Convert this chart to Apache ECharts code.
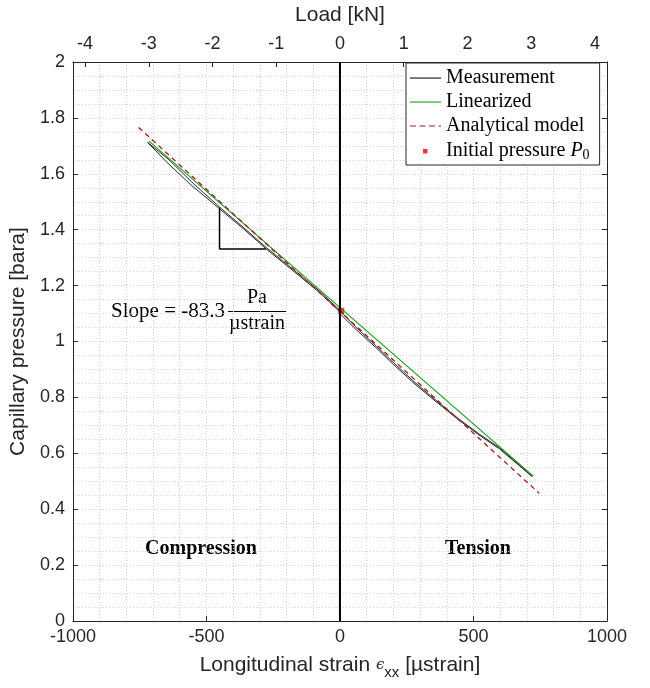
<!DOCTYPE html>
<html><head><meta charset="utf-8">
<script src="https://cdn.jsdelivr.net/npm/echarts@6.0.0/dist/echarts.min.js"></script>
<style>html,body{margin:0;padding:0;background:#fff}#c{width:650px;height:688px}</style>
</head><body><div id="c"></div>
<script>
// ---- data ----
const measStrain = [0, -75, -150, -200, -276, -360, -450, -560, -650, -720,
  -715, -640, -550, -450, -360, -276, -200, -150, -75, 0,
  50, 137, 200, 272, 340, 410, 448, 520, 597, 660, 720,
  724, 660, 597, 520, 448, 410, 340, 272, 200, 137, 50, 0];
const measPressure = [1.105, 1.174, 1.233, 1.272, 1.331, 1.402, 1.474, 1.562, 1.643, 1.712,
  1.717, 1.650, 1.566, 1.480, 1.407, 1.336, 1.277, 1.238, 1.179, 1.111,
  1.060, 0.982, 0.925, 0.861, 0.805, 0.750, 0.721, 0.670, 0.620, 0.568, 0.517,
  0.515, 0.565, 0.616, 0.666, 0.717, 0.746, 0.800, 0.855, 0.918, 0.976, 1.052, 1.100];
const linStrain = [-715, 724];
const linPressure = [1.717, 0.5185];
const anaStrain = [-754, 0, 746];
const anaPressure = [1.766, 1.108, 0.457];
const p0Strain = [5];
const p0Pressure = [1.11];
const triStrain = [-451, -451, -277];
const triPressure = [1.479, 1.331, 1.331];
const zeroLineStrain = [0, 0];
const zeroLinePressure = [0, 2];
const seriesNames = ['Measurement', 'Linearized', 'Analytical model', 'Initial pressure'];
const strainTicks = [-1000, -500, 0, 500, 1000];
const loadRange = [-4.19, 4.19];

const zip = (a, b) => a.map((v, i) => [v, b[i]]);
const AX = '#262626';
const gridLine = { show: true, lineStyle: { color: '#d4d4d4', type: [1, 2], width: 1 } };
const C_MEAS = '#111111', C_LIN = '#1f9a1f', C_ANA = '#9c1c1c', C_P0 = '#ff0000';

// legend icon paths (bounding box 31 x 5 kept via degenerate end points)
const solidIcon = 'path://M0,0L0,0M0,2L31,2L31,3.1L0,3.1ZM31,5L31,5';
const dashIcon = 'path://M0,0L0,0M0,2L6,2L6,3.1L0,3.1ZM9.5,2L15.5,2L15.5,3.1L9.5,3.1ZM19,2L25,2L25,3.1L19,3.1ZM28.5,2L31,2L31,3.1L28.5,3.1ZM31,5L31,5';
const squareIcon = 'path://M0,0L0,0M13,0.5L17.5,0.5L17.5,5L13,5ZM31,5L31,5';

const chart = echarts.init(document.getElementById('c'), null, { renderer: 'canvas' });
chart.setOption({
  animation: false,
  backgroundColor: '#fff',
  grid: { left: 72, right: 43, top: 57, bottom: 67, containLabel: false },
  xAxis: [{
    type: 'value', position: 'bottom',
    min: strainTicks[0], max: strainTicks[strainTicks.length - 1], interval: 500,
    name: 'Longitudinal strain {e|ϵ}{s|xx} [µstrain]',
    nameLocation: 'middle', nameGap: 30,
    nameTextStyle: {
      fontFamily: 'Liberation Sans', fontSize: 21, color: AX,
      rich: {
        e: { fontFamily: 'DejaVu Serif', fontStyle: 'italic', fontSize: 15, color: AX, lineHeight: 22 },
        s: { fontFamily: 'Liberation Sans', fontSize: 15, color: AX, lineHeight: 22, padding: [14, 0, 0, 0] }
      }
    },
    axisLine: { show: true, onZero: false, lineStyle: { color: AX, width: 1 } },
    axisTick: { show: true, inside: true, length: 5, lineStyle: { color: AX } },
    axisLabel: { fontFamily: 'Liberation Sans', fontSize: 18, color: AX, margin: 7, formatter: v => String(v) },
    splitLine: gridLine,
    minorTick: { show: false, splitNumber: 5 },
    minorSplitLine: gridLine
  }, {
    type: 'value', position: 'top',
    min: loadRange[0], max: loadRange[1], splitNumber: 8,
    name: 'Load [kN]', nameLocation: 'middle', nameGap: 36,
    nameTextStyle: { fontFamily: 'Liberation Sans', fontSize: 21, color: AX },
    axisLine: { show: true, onZero: false, lineStyle: { color: AX, width: 1 } },
    axisTick: { show: true, inside: true, length: 5, lineStyle: { color: AX } },
    axisLabel: { fontFamily: 'Liberation Sans', fontSize: 18, color: AX, margin: 9,
      showMinLabel: false, showMaxLabel: false,
      formatter: v => (Math.abs(v - Math.round(v)) < 1e-6 ? String(Math.round(v)) : '') },
    splitLine: { show: false }
  }],
  yAxis: [{
    type: 'value', position: 'left', min: 0, max: 2, interval: 0.2,
    name: 'Capillary pressure [bara]', nameLocation: 'middle', nameGap: 39,
    nameTextStyle: { fontFamily: 'Liberation Sans', fontSize: 21, color: AX },
    axisLine: { show: true, onZero: false, lineStyle: { color: AX, width: 1 } },
    axisTick: { show: true, inside: true, length: 5, lineStyle: { color: AX } },
    axisLabel: { fontFamily: 'Liberation Sans', fontSize: 18, color: AX, margin: 8 },
    splitLine: gridLine,
    minorTick: { show: false, splitNumber: 4 },
    minorSplitLine: gridLine
  }, {
    type: 'value', position: 'right', min: 0, max: 2, interval: 0.2,
    axisLine: { show: true, onZero: false, lineStyle: { color: AX, width: 1 } },
    axisTick: { show: true, inside: true, length: 5, lineStyle: { color: AX } },
    axisLabel: { show: false },
    splitLine: { show: false }
  }],
  legend: {
    orient: 'vertical', left: 406, top: 63,
    itemWidth: 31, itemHeight: 5, itemGap: 4,
    padding: [5, 10, 3, 4],
    backgroundColor: '#fff', borderColor: AX, borderWidth: 1, borderRadius: 0,
    symbolKeepAspect: false,
    data: [
      { name: seriesNames[0], icon: solidIcon, itemStyle: { color: C_MEAS } },
      { name: seriesNames[1], icon: solidIcon, itemStyle: { color: C_LIN } },
      { name: seriesNames[2], icon: dashIcon, itemStyle: { color: C_ANA } },
      { name: seriesNames[3], icon: squareIcon, itemStyle: { color: C_P0 } }
    ],
    formatter: n => n === 'Initial pressure' ? 'Initial pressure {i|P}{s|0}' : n,
    textStyle: {
      fontFamily: 'Liberation Serif', fontSize: 20, color: '#000', lineHeight: 20,
      rich: {
        i: { fontFamily: 'Liberation Serif', fontStyle: 'italic', fontSize: 20, color: '#000', lineHeight: 20 },
        s: { fontFamily: 'Liberation Serif', fontSize: 14, color: '#000', lineHeight: 20, padding: [8, 0, 0, 0] }
      }
    }
  },
  series: [{
    name: 'Measurement', type: 'line', data: zip(measStrain, measPressure),
    symbol: 'none', lineStyle: { color: C_MEAS, width: 0.9 }, itemStyle: { color: C_MEAS }, z: 3
  }, {
    name: 'Linearized', type: 'line', data: zip(linStrain, linPressure),
    symbol: 'none', lineStyle: { color: C_LIN, width: 1.2 }, itemStyle: { color: C_LIN }, z: 4
  }, {
    name: 'Analytical model', type: 'line', data: zip(anaStrain, anaPressure),
    symbol: 'none', lineStyle: { color: C_ANA, width: 1.3, type: [5, 4] }, itemStyle: { color: C_ANA }, z: 5
  }, {
    name: 'Initial pressure', type: 'scatter', data: zip(p0Strain, p0Pressure),
    symbol: 'rect', symbolSize: 6, itemStyle: { color: C_P0 }, z: 2
  }, {
    name: 'zero', type: 'line', data: zip(zeroLineStrain, zeroLinePressure),
    symbol: 'none', lineStyle: { color: '#000', width: 2 }, z: 6, silent: true
  }, {
    name: 'slopeTri', type: 'line', data: zip(triStrain, triPressure),
    symbol: 'none', lineStyle: { color: '#000', width: 1.5 }, z: 6, silent: true
  }],
  graphic: [
    { type: 'text', x: 225, y: 311,
      style: { text: 'Slope = -83.3', font: '21px "Liberation Serif"', fill: '#000', align: 'right', verticalAlign: 'middle' } },
    { type: 'text', x: 257, y: 298,
      style: { text: 'Pa', font: '20px "Liberation Serif"', fill: '#000', align: 'center', verticalAlign: 'middle' } },
    { type: 'line', shape: { x1: 228, y1: 311.5, x2: 286, y2: 311.5 }, style: { stroke: '#000', lineWidth: 1 } },
    { type: 'text', x: 257, y: 324,
      style: { text: 'µstrain', font: '20px "Liberation Serif"', fill: '#000', align: 'center', verticalAlign: 'middle' } },
    { type: 'text', x: 201, y: 549,
      style: { text: 'Compression', font: 'bold 20px "Liberation Serif"', fill: '#000', align: 'center', verticalAlign: 'middle' } },
    { type: 'text', x: 478, y: 549,
      style: { text: 'Tension', font: 'bold 20px "Liberation Serif"', fill: '#000', align: 'center', verticalAlign: 'middle' } }
  ]
});
</script>
</body></html>
